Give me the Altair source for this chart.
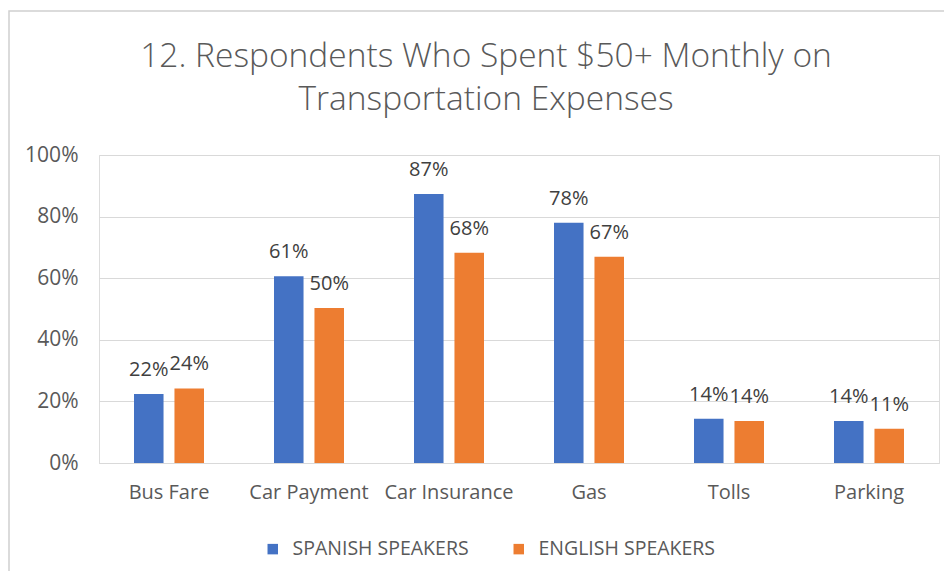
import altair as alt
import pandas as pd

categories = ["Bus Fare", "Car Payment", "Car Insurance", "Gas", "Tolls", "Parking"]
series_names = ["SPANISH SPEAKERS", "ENGLISH SPEAKERS"]
spanish = [0.224, 0.606, 0.873, 0.780, 0.144, 0.136]
english = [0.242, 0.503, 0.683, 0.670, 0.136, 0.111]
y_ticks = [0, 0.2, 0.4, 0.6, 0.8, 1.0]
colors = ["#4472C4", "#ED7D31"]
title_lines = ["12. Respondents Who Spent $50+ Monthly on", "Transportation Expenses"]

rows = []
for c, s, e in zip(categories, spanish, english):
    rows.append({"category": c, "series": series_names[0], "value": s})
    rows.append({"category": c, "series": series_names[1], "value": e})
df = pd.DataFrame(rows)

FONT = "Open Sans"
GREY = "#595959"

x_enc = alt.X("category:N", sort=categories, title=None,
              scale=alt.Scale(paddingInner=0.5, paddingOuter=0.25),
              axis=alt.Axis(labelAngle=0, labelFontSize=20, labelColor=GREY, labelFont=FONT,
                            ticks=False, domain=True, domainColor="#d9d9d9", labelPadding=19))
xo_enc = alt.XOffset("series:N", sort=series_names,
                     scale=alt.Scale(paddingInner=0.27, paddingOuter=0))
y_enc = alt.Y("value:Q", title=None, scale=alt.Scale(domain=[0, 1]),
              axis=alt.Axis(values=y_ticks, format=".0%", labelFontSize=21, labelColor=GREY,
                            labelFont=FONT, ticks=False, domain=False, gridColor="#d9d9d9",
                            labelPadding=21))

base = alt.Chart(df)

bars = base.mark_bar().encode(
    x=x_enc, xOffset=xo_enc, y=y_enc,
    color=alt.Color("series:N", sort=series_names,
                    scale=alt.Scale(domain=series_names, range=colors),
                    legend=alt.Legend(title=None, orient="none", legendX=164, legendY=384,
                                      direction="horizontal", symbolType="square",
                                      symbolSize=110, symbolStrokeWidth=0,
                                      labelFontSize=19.5, labelColor=GREY, labelFont=FONT,
                                      labelOffset=10, columnPadding=40, labelLimit=400)),
)

labels = base.mark_text(baseline="middle", align="center", dy=-24, fontSize=20,
                        font=FONT, color="#404040").encode(
    x=alt.X("category:N", sort=categories), xOffset=alt.XOffset("series:N", sort=series_names),
    y="value:Q",
    text=alt.Text("value:Q", format=".0%"),
)

frame = alt.Chart(pd.DataFrame({"a": [0]})).mark_rect(fill=None, stroke="#d0d0d0", strokeWidth=1.5).encode(
    x=alt.value(-90), x2=alt.value(900), y=alt.value(-144), y2=alt.value(500)
)

title = alt.Chart(pd.DataFrame({"t": ["\n".join(title_lines)]})).mark_text(
    align="center", baseline="middle", lineBreak="\n", lineHeight=43,
    fontSize=33.5, font=FONT, fontWeight=300, color=GREY,
).encode(text="t:N", x=alt.value(387), y=alt.value(-98))

chart = alt.layer(frame, title, bars, labels).properties(
    width=840, height=308,
    autosize=alt.AutoSizeParams(type="none"),
    padding={"left": 91, "top": 147, "right": 5, "bottom": 108},
).configure_view(stroke=None).configure(background="white")

chart.save("out.html", embed_options={"renderer": "svg", "actions": False})
